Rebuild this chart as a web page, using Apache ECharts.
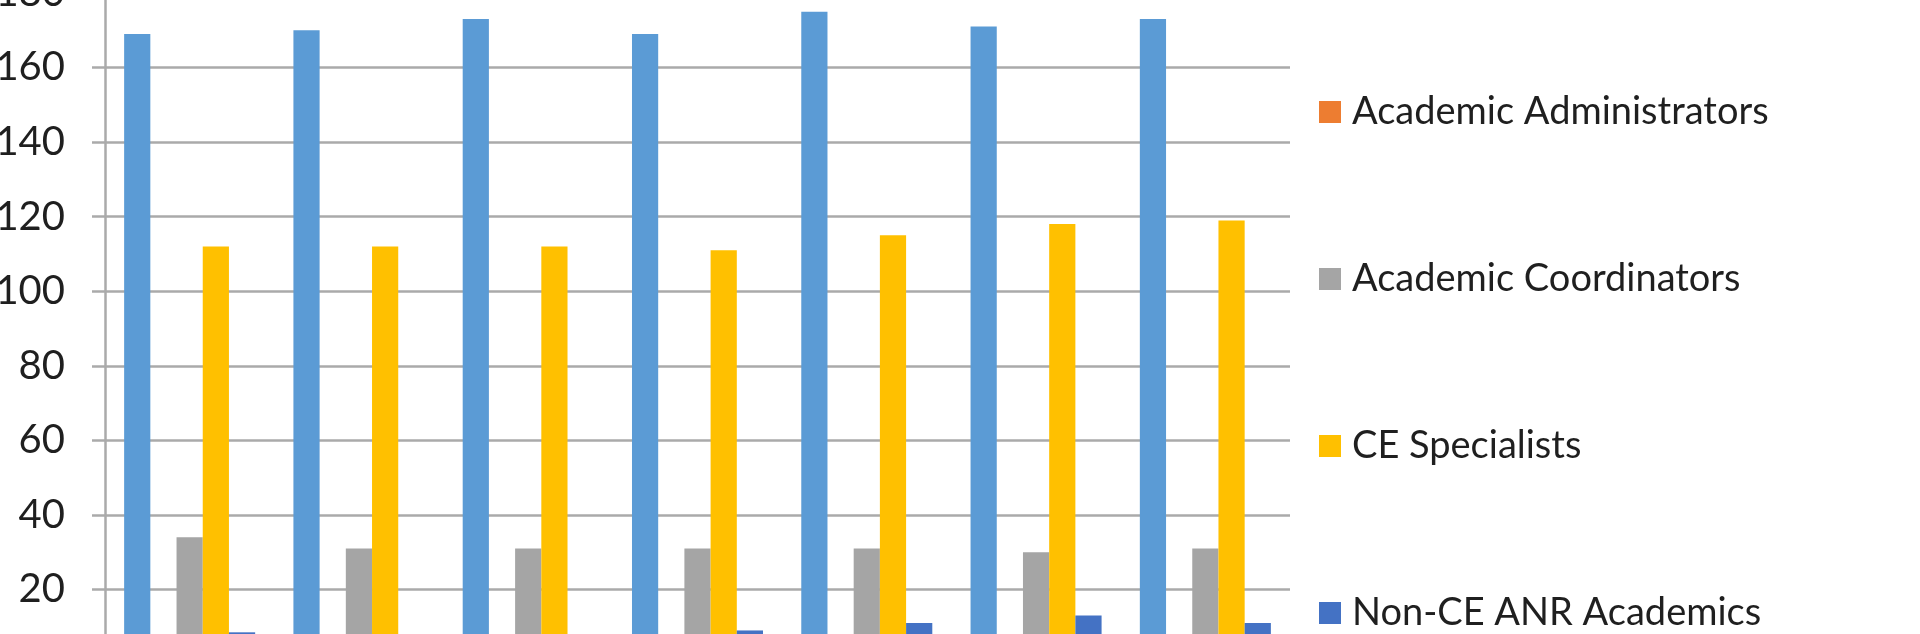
<!DOCTYPE html>
<html>
<head>
<meta charset="utf-8">
<script src="https://cdn.jsdelivr.net/npm/echarts@6/dist/echarts.min.js"></script>
<style>
html,body{margin:0;padding:0;background:#fff;}
#c{width:1920px;height:634px;}
</style>
</head>
<body>
<div id="c"></div>
<script>
var categories = ['2013', '2014', '2015', '2016', '2017', '2018', '2019'];
var seriesNames = ['CE Advisors', 'Academic Administrators', 'Academic Coordinators', 'CE Specialists', 'Non-CE ANR Academics'];
var ceAdvisors = [169, 170, 173, 169, 175, 171, 173];
var academicAdministrators = [2, 2, 2, 2, 2, 2, 2];
var academicCoordinators = [34, 31, 31, 31, 31, 30, 31];
var ceSpecialists = [112, 112, 112, 111, 115, 118, 119];
var nonCeAnr = [8.5, 6, 6, 9, 11, 13, 11];
var yTicks = { min: 0, max: 180, interval: 20 };
var colors = ['#5B9BD5', '#ED7D31', '#A5A5A5', '#FFC000', '#4472C4'];

var dataSets = [ceAdvisors, academicAdministrators, academicCoordinators, ceSpecialists, nonCeAnr];

var chart = echarts.init(document.getElementById('c'));
chart.setOption({
  animation: false,
  backgroundColor: '#ffffff',
  color: colors,
  grid: { left: 105, top: -7, width: 1185, height: 671, containLabel: false, outerBoundsMode: 'none' },
  legend: {
    orient: 'vertical',
    left: 1314,
    top: -82,
    height: 900,
    itemWidth: 22,
    itemHeight: 22,
    itemGap: 123,
    icon: 'rect',
    data: seriesNames,
    textStyle: { fontFamily: 'Lato', fontSize: 38, color: '#1f1f1f', lineHeight: 44, padding: [0, 0, 0, 6] }
  },
  xAxis: {
    type: 'category',
    data: categories,
    axisLine: { show: true, lineStyle: { color: '#aaaaaa', width: 2.5 } },
    axisTick: { show: false },
    axisLabel: { fontFamily: 'Lato', fontSize: 40, color: '#1f1f1f' }
  },
  yAxis: {
    type: 'value',
    min: yTicks.min,
    max: yTicks.max,
    interval: yTicks.interval,
    axisLine: { show: true, lineStyle: { color: '#aaaaaa', width: 2.5 } },
    axisTick: { show: true, length: 13, lineStyle: { color: '#aaaaaa', width: 2.5 } },
    splitLine: { show: true, lineStyle: { color: '#aaaaaa', width: 2.5 } },
    axisLabel: { fontFamily: 'Lato', fontSize: 40, color: '#1f1f1f', margin: 40 }
  },
  series: seriesNames.map(function (n, i) {
    return {
      name: n,
      type: 'bar',
      data: dataSets[i],
      barGap: '0%',
      barCategoryGap: '22.6%',
      itemStyle: { color: colors[i] }
    };
  })
});
</script>
</body>
</html>
